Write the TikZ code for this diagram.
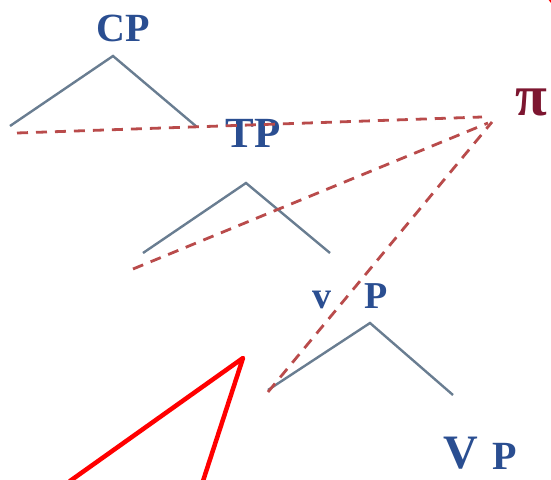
\documentclass[tikz,border=0pt]{standalone}
\usepackage{fontspec}
\setmainfont{Liberation Serif}
\definecolor{labelblue}{RGB}{42,78,145}
\definecolor{pimaroon}{RGB}{125,22,48}
\definecolor{treegray}{RGB}{105,125,145}
\definecolor{dashred}{RGB}{185,75,75}
\tikzset{
  lbl/.style={inner sep=0pt, text=labelblue, font=\bfseries},
  treeline/.style={draw=treegray, line width=2.4pt, line join=miter},
  movedash/.style={draw=dashred, line width=2.8pt, dash pattern=on 11pt off 8pt},
  redline/.style={draw=red, line width=4.5pt, line join=round, line cap=round}
}
\begin{document}
\begin{tikzpicture}[x=1pt,y=-1pt]
\useasboundingbox (0,0) rectangle (551,479);
% labels
\node[lbl, font=\bfseries\fontsize{40}{40}\selectfont] (cp) at (123,28) {CP};
\node[lbl, font=\bfseries\fontsize{43}{43}\selectfont] (tp) at (253,133) {TP};
\node[lbl, font=\bfseries\fontsize{38}{38}\selectfont] (v1) at (322,300) {v};
\node[lbl, font=\bfseries\fontsize{38}{38}\selectfont] (p1) at (376,296) {P};
\node[lbl, font=\bfseries\fontsize{48}{48}\selectfont] (v2) at (461,453) {V};
\node[lbl, font=\bfseries\fontsize{40}{40}\selectfont] (p2) at (505,456) {P};
\node[inner sep=0pt, text=pimaroon, font=\bfseries\fontsize{58}{58}\selectfont] (pi) at (531,102) {π};
% tree coordinates
\coordinate (cpL) at (10,126);
\coordinate (cpA) at (113,56);
\coordinate (cpR) at (197,127);
\coordinate (tpL) at (143,253);
\coordinate (tpA) at (246,183);
\coordinate (tpR) at (330,253);
\coordinate (vpL) at (268,390);
\coordinate (vpA) at (370,323);
\coordinate (vpR) at (453,395);
% dashed coordinates
\coordinate (d1s) at (17,133);
\coordinate (d1e) at (482,117);
\coordinate (d2s) at (133,269);
\coordinate (d2e) at (488,123);
\coordinate (d3s) at (268,392);
\coordinate (d3e) at (492,122);
% red coordinates
\coordinate (rA) at (243,358);
\coordinate (rL) at (70,481);
\coordinate (rR) at (203,481);
\coordinate (c1) at (549,-2);
\coordinate (c2) at (553,3);
% trees
\draw[treeline] (cpL) -- (cpA) -- (cpR);
\draw[treeline] (tpL) -- (tpA) -- (tpR);
\draw[treeline] (vpL) -- (vpA) -- (vpR);
% dashed lines
\draw[movedash] (d1s) -- (d1e);
\draw[movedash] (d2s) -- (d2e);
\draw[movedash] (d3s) -- (d3e);
% red lines
\draw[redline] (rL) -- (rA) -- (rR);
\draw[draw=red, line width=3pt] (c1) -- (c2);
\end{tikzpicture}
\end{document}
